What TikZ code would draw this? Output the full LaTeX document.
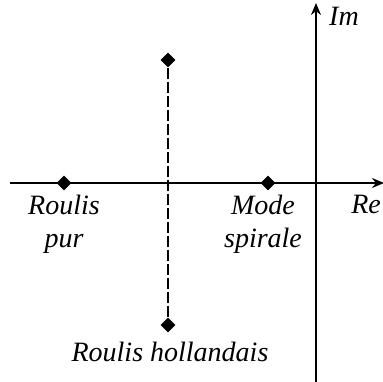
\documentclass[tikz,border=0pt]{standalone}
\usepackage{fontspec}
\setmainfont{Liberation Serif}
\usetikzlibrary{shapes.geometric,arrows.meta}
\begin{document}
\begin{tikzpicture}[x=1pt,y=-1pt,
  pole/.style={diamond,fill=black,inner sep=0pt,minimum size=15pt},
  axis/.style={line width=1.6pt,-{Stealth[length=12pt,width=10pt]}},
  lbl/.style={font=\fontsize{28}{33}\selectfont\itshape,align=center,inner sep=0pt}]
\useasboundingbox (0,0) rectangle (382,382);
\coordinate (xs) at (10,183);
\coordinate (xe) at (384,183);
\coordinate (ys) at (316,382);
\coordinate (ye) at (316,3);
\draw[axis] (xs) -- (xe);
\draw[axis] (ys) -- (ye);
\node[pole] (rp) at (64,183) {};
\node[pole] (ms) at (268,183) {};
\node[pole] (h1) at (168,60) {};
\node[pole] (h2) at (168,325) {};
\draw[line width=1.6pt,dash pattern=on 11pt off 3pt] (h1) -- (h2);
\node[lbl,anchor=north] (t1) at (64,195) {Roulis\\pur};
\node[lbl,anchor=north] (t2) at (263,195) {Mode\\spirale};
\node[lbl,anchor=north] (t3) at (170,342) {Roulis hollandais};
\node[lbl,anchor=west] (im) at (329,16) {Im};
\node[lbl,anchor=north east] (re) at (381,195) {Re};
\end{tikzpicture}
\end{document}
